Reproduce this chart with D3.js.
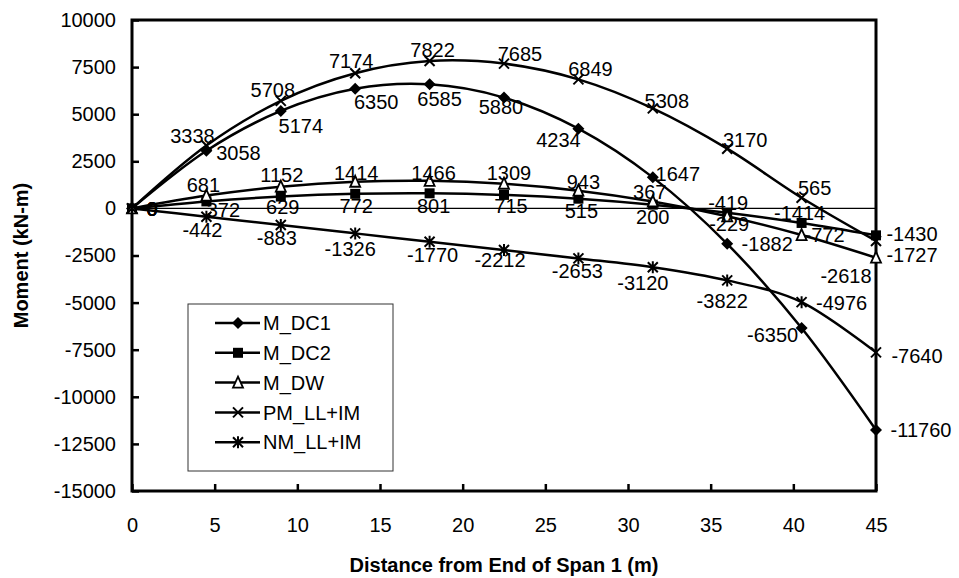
<!DOCTYPE html>
<html>
<head>
<meta charset="utf-8">
<script src="https://cdn.jsdelivr.net/npm/d3@7"></script>
<style>
  html, body { margin: 0; padding: 0; background: #fff; }
  svg { display: block; }
  text { font-family: "Liberation Sans", Arial, sans-serif; fill: #000; }
</style>
</head>
<body>
<svg id="chart" width="959" height="578"></svg>
<script>
// ---- data ----
const distances = [0, 4.5, 9, 13.5, 18, 22.5, 27, 31.5, 36, 40.5, 45];
const seriesNames = ["M_DC1", "M_DC2", "M_DW", "PM_LL+IM", "NM_LL+IM"];
const mDC1 = [0, 3058, 5174, 6350, 6585, 5880, 4234, 1647, -1882, -6350, -11760];
const mDC2 = [0, 372, 629, 772, 801, 715, 515, 200, -229, -772, -1430];
const mDW  = [0, 681, 1152, 1414, 1466, 1309, 943, 367, -419, -1414, -2618];
const pmLL = [0, 3338, 5708, 7174, 7822, 7685, 6849, 5308, 3170, 565, -1727];
const nmLL = [0, -442, -883, -1326, -1770, -2212, -2653, -3120, -3822, -4976, -7640];
const yTicks = [10000, 7500, 5000, 2500, 0, -2500, -5000, -7500, -10000, -12500, -15000];
const xTicks = [0, 5, 10, 15, 20, 25, 30, 35, 40, 45];
const xTitle = "Distance from End of Span 1 (m)";
const yTitle = "Moment (kN-m)";

// ---- label placement (pixel offsets from each point) ----
const labelOffsets = [
  [[20,0],[32,2],[20,15],[21,13],[10,14],[-3,9],[-20,11],[25,-4],[40,0],[-29,7],[45,0]],
  [[20,0],[17,8],[2,10],[1,12],[4,12],[7,11],[3,12],[0,12],[2,11],[23,12],[36,-2]],
  [[20,0],[-3,-11],[1,-12],[1,-9],[4,-8],[5,-11],[5,-9],[-3,-10],[1,-13],[-2,-22],[-30,18]],
  [[20,0],[-14,-10],[-8,-11],[-4,-12],[3,-11],[16,-10],[12,-11],[14,-8],[18,-9],[13,-10],[36,14]],
  [[20,0],[-4,13],[-4,13],[-5,15],[3,13],[-4,10],[-1,12],[-10,16],[-5,20],[40,1],[41,3]]
];
const markerTypes = ["diamond", "square", "triangle", "x", "star"];

const seriesValues = [mDC1, mDC2, mDW, pmLL, nmLL];
const series = seriesNames.map((name, i) => ({
  name, marker: markerTypes[i], offsets: labelOffsets[i],
  points: distances.map((d, j) => ({ x: d, y: seriesValues[i][j] }))
}));

const svg = d3.select("#chart");
const pLeft = 132, pRight = 876, pTop = 20, pBottom = 491;
const x = d3.scaleLinear().domain([0, 45]).range([pLeft, pRight]);
const y = d3.scaleLinear().domain([-15000, 10000]).range([pBottom, pTop]);
const plain = d => String(d);

// zero line
svg.append("line")
  .attr("x1", pLeft).attr("x2", pRight)
  .attr("y1", y(0)).attr("y2", y(0))
  .attr("stroke", "#000").attr("stroke-width", 1.2);

// axes
const yAxis = svg.append("g").attr("transform", `translate(${pLeft},0)`)
  .call(d3.axisLeft(y).tickValues(yTicks).tickSize(-7).tickPadding(16).tickFormat(plain));
const xAxis = svg.append("g").attr("transform", `translate(0,${pBottom})`)
  .call(d3.axisBottom(x).tickValues(xTicks).tickSize(-7).tickPadding(27).tickFormat(plain));
[yAxis, xAxis].forEach(g => {
  g.select(".domain").remove();
  g.selectAll(".tick line").attr("stroke", "#000").attr("stroke-width", 2.5);
  g.selectAll(".tick text").attr("font-size", 20).attr("font-family", "Liberation Sans, Arial, sans-serif");
});

// frame
svg.append("rect")
  .attr("x", pLeft).attr("y", pTop)
  .attr("width", pRight - pLeft).attr("height", pBottom - pTop)
  .attr("fill", "none").attr("stroke", "#000").attr("stroke-width", 3);

// titles
svg.append("text")
  .attr("transform", `translate(28,${(pTop + pBottom) / 2}) rotate(-90)`)
  .attr("text-anchor", "middle")
  .attr("font-size", 20).attr("font-weight", "bold")
  .text(yTitle);
svg.append("text")
  .attr("x", (pLeft + pRight) / 2).attr("y", 572)
  .attr("text-anchor", "middle")
  .attr("font-size", 20).attr("font-weight", "bold")
  .text(xTitle);

// marker drawing
function drawMarker(g, type) {
  const s = 5;
  if (type === "diamond") {
    g.append("path").attr("d", `M0,${-s-1}L${s+1},0L0,${s+1}L${-s-1},0Z`).attr("fill", "#000");
  } else if (type === "square") {
    g.append("rect").attr("x", -s).attr("y", -s).attr("width", 2*s).attr("height", 2*s).attr("fill", "#000");
  } else if (type === "triangle") {
    g.append("path").attr("d", `M0,${-s-1}L${s},${s}L${-s},${s}Z`)
      .attr("fill", "#fff").attr("stroke", "#000").attr("stroke-width", 1.8);
  } else if (type === "x") {
    g.append("path").attr("d", `M${-s},${-s}L${s},${s}M${-s},${s}L${s},${-s}`)
      .attr("stroke", "#000").attr("stroke-width", 2).attr("fill", "none");
  } else if (type === "star") {
    g.append("path").attr("d", `M${-s},${-s}L${s},${s}M${-s},${s}L${s},${-s}M0,${-s-1}L0,${s+1}`)
      .attr("stroke", "#000").attr("stroke-width", 2).attr("fill", "none");
  }
}

const line = d3.line().x(d => x(d.x)).y(d => y(d.y)).curve(d3.curveCatmullRom.alpha(0));

// lines
svg.append("g").selectAll("path").data(series).join("path")
  .attr("d", d => line(d.points))
  .attr("fill", "none").attr("stroke", "#000").attr("stroke-width", 2.5);

// markers
series.forEach(s => {
  s.points.forEach(p => {
    const g = svg.append("g").attr("transform", `translate(${x(p.x)},${y(p.y)})`);
    drawMarker(g, s.marker);
  });
});

// data labels
series.forEach(s => {
  s.points.forEach((p, j) => {
    const o = s.offsets[j];
    svg.append("text")
      .attr("x", x(p.x) + o[0]).attr("y", y(p.y) + o[1])
      .attr("dy", "0.36em")
      .attr("text-anchor", "middle")
      .attr("font-size", 20)
      .text(plain(p.y));
  });
});

// legend
const lg = svg.append("g");
lg.append("rect").attr("x", 188).attr("y", 304).attr("width", 205).attr("height", 167)
  .attr("fill", "#fff").attr("stroke", "#333").attr("stroke-width", 1);
series.forEach((s, i) => {
  const ry = 323 + i * 29.8;
  lg.append("line").attr("x1", 215).attr("x2", 260).attr("y1", ry).attr("y2", ry)
    .attr("stroke", "#000").attr("stroke-width", 2.5);
  const g = lg.append("g").attr("transform", `translate(238,${ry})`);
  drawMarker(g, s.marker);
  lg.append("text").attr("x", 263).attr("y", ry).attr("dy", "0.36em")
    .attr("font-size", 20).text(s.name);
});
</script>
</body>
</html>
